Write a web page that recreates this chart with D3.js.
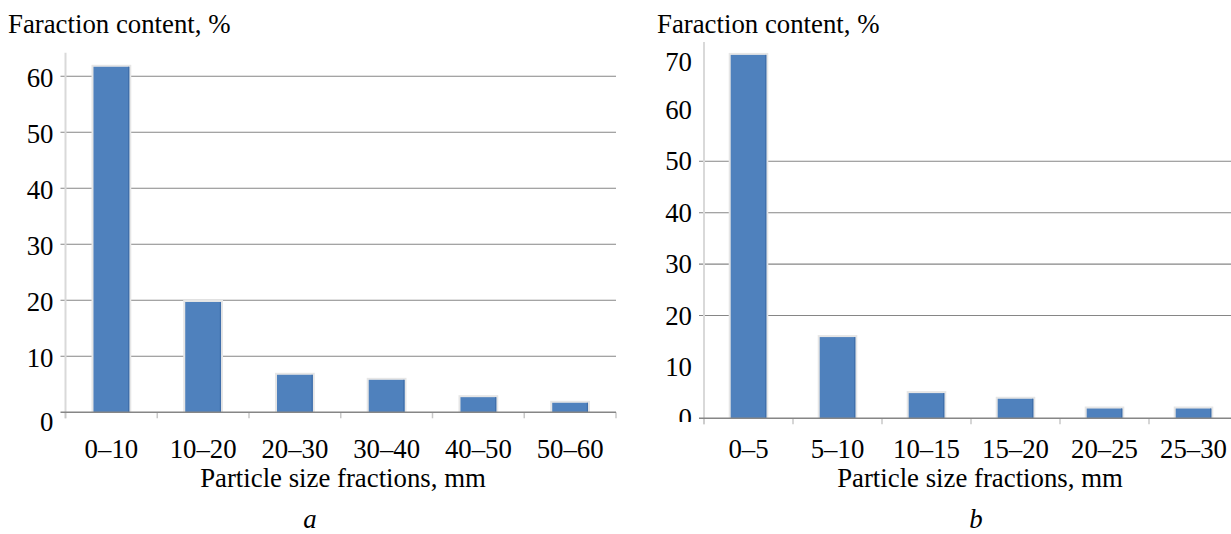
<!DOCTYPE html>
<html>
<head>
<meta charset="utf-8">
<script src="https://cdn.jsdelivr.net/npm/d3@7"></script>
<style>
  html, body { margin: 0; padding: 0; background: #fff; }
  svg { display: block; }
</style>
</head>
<body>
<svg id="chart" width="1231" height="534"></svg>
<script>
// Panel a: fractions of 0–60 mm material
const categoriesA = ["0–10", "10–20", "20–30", "30–40", "40–50", "50–60"];
const valuesA = [61.7, 19.7, 6.7, 5.8, 2.7, 1.7];
const yTicksA = [0, 10, 20, 30, 40, 50, 60];
const gridValuesA = [10, 20, 30, 40, 50, 60];

// Panel b: fractions of 0–30 mm material
const categoriesB = ["0–5", "5–10", "10–15", "15–20", "20–25", "25–30"];
const valuesB = [70.7, 15.8, 4.9, 3.8, 1.9, 1.9];
const yTicksB = [0, 10, 20, 30, 40, 50, 60, 70];
const gridValuesB = [20, 30, 40, 50];

const yTitle = "Faraction content, %";
const xTitle = "Particle size fractions, mm";

const svg = d3.select("#chart");
const SERIF = "'Liberation Serif', 'DejaVu Serif', serif";
const FONT = 26.8;
const BAR = "#4f81bd";
const GRID = "#868686";
const AXIS = "#d9d9d9";

// clip region (in the label group's local coordinates) that trims the lowest value label
svg.append("defs").append("clipPath").attr("id", "clipB")
  .append("rect").attr("x", -110).attr("y", 0).attr("width", 110).attr("height", 422);

function panel(cfg) {
  const g = svg.append("g");
  const { x0, x1, y0, yMax, pxPerUnit } = cfg;

  const y = d3.scaleLinear().domain([0, yMax]).range([y0, y0 - yMax * pxPerUnit]);
  const xCat = d3.scaleBand().domain(cfg.categories).range([x0, x1]).padding(0);
  const xBar = d3.scaleBand().domain(cfg.categories).range([x0, x1])
    .paddingInner(cfg.barPad).paddingOuter(cfg.barPad / 2);

  // horizontal gridlines with short outward ticks
  g.append("g").selectAll("line").data(cfg.grid).join("line")
    .attr("x1", x0 - 5).attr("x2", x1)
    .attr("y1", d => y(d)).attr("y2", d => y(d))
    .attr("stroke", GRID).attr("stroke-width", 1.1);

  // vertical value axis line
  g.append("line")
    .attr("x1", x0).attr("x2", x0)
    .attr("y1", y(yMax)).attr("y2", y0 + 6)
    .attr("stroke", AXIS).attr("stroke-width", 2);

  // category tick marks below the baseline
  const bounds = cfg.categories.map(c => xCat(c)).concat([x1]);
  g.append("g").selectAll("line").data(bounds).join("line")
    .attr("x1", d => d).attr("x2", d => d)
    .attr("y1", y0).attr("y2", y0 + 6)
    .attr("stroke", "#c8c8c8").attr("stroke-width", 1.5);

  // bars with a faint halo
  const bars = g.append("g");
  const data = cfg.categories.map((c, i) => ({ c, v: cfg.values[i] }));
  bars.selectAll("rect.halo").data(data).join("rect").attr("class", "halo")
    .attr("x", d => xBar(d.c) - 2)
    .attr("y", d => y(d.v) - 2)
    .attr("width", xBar.bandwidth() + 4)
    .attr("height", d => y0 - y(d.v) + 2)
    .attr("fill", "#e6e6e6");
  bars.selectAll("rect.bar").data(data).join("rect").attr("class", "bar")
    .attr("x", d => xBar(d.c))
    .attr("y", d => y(d.v))
    .attr("width", xBar.bandwidth())
    .attr("height", d => y0 - y(d.v))
    .attr("fill", BAR);
  bars.selectAll("rect.edge").data(data).join("rect").attr("class", "edge")
    .attr("x", d => xBar(d.c) + xBar.bandwidth() - 1.2)
    .attr("y", d => y(d.v))
    .attr("width", 1.2)
    .attr("height", d => y0 - y(d.v))
    .attr("fill", "#3f6eaa");

  // baseline
  g.append("line")
    .attr("x1", x0 - 5).attr("x2", x1)
    .attr("y1", y0).attr("y2", y0)
    .attr("stroke", GRID).attr("stroke-width", 1.5);

  // value axis labels
  const yAxis = g.append("g")
    .attr("transform", `translate(${x0},0)`)
    .call(d3.axisLeft(y).tickValues(cfg.yTicks).tickSize(0).tickPadding(12).tickFormat(d3.format("d")))
    .attr("font-family", SERIF).attr("font-size", FONT);
  yAxis.select(".domain").remove();
  yAxis.selectAll("text")
    .attr("fill", "#000")
    .attr("dy", d => cfg.labelShift(d));
  if (cfg.clip) yAxis.attr("clip-path", cfg.clip);

  // category labels
  const xAxis = g.append("g")
    .attr("transform", `translate(0,${cfg.catBaseline})`)
    .call(d3.axisBottom(xCat).tickSize(0).tickPadding(0))
    .attr("font-family", SERIF).attr("font-size", FONT);
  xAxis.select(".domain").remove();
  xAxis.selectAll("text").attr("fill", "#000").attr("dy", 0);

  // titles
  g.append("text").attr("x", cfg.titleX).attr("y", 33)
    .attr("font-family", SERIF).attr("font-size", FONT).text(yTitle);
  g.append("text").attr("x", cfg.xTitleX).attr("y", 487)
    .attr("font-family", SERIF)
    .attr("text-anchor", "middle").attr("font-size", FONT).text(xTitle);
  g.append("text").attr("x", cfg.letterX).attr("y", 528)
    .attr("font-family", SERIF)
    .attr("text-anchor", "middle").attr("font-size", FONT)
    .attr("font-style", "italic").text(cfg.letter);
}

panel({
  categories: categoriesA, values: valuesA, yTicks: yTicksA, grid: gridValuesA,
  x0: 65.5, x1: 616, y0: 412.3, yMax: 64.2, pxPerUnit: 5.6, barPad: 0.61,
  labelShift: d => d === 0 ? "0.68em" : "0.38em",
  catBaseline: 458, titleX: 8, xTitleX: 343, letterX: 310, letter: "a"
});

panel({
  categories: categoriesB, values: valuesB, yTicks: yTicksB, grid: gridValuesB,
  x0: 704, x1: 1238, y0: 418.3, yMax: 73.2, pxPerUnit: 5.14, barPad: 0.6,
  labelShift: d => d === 70 ? "0.45em" : "0.32em",
  clip: "url(#clipB)",
  catBaseline: 458, titleX: 657, xTitleX: 980, letterX: 976, letter: "b"
});
</script>
</body>
</html>
